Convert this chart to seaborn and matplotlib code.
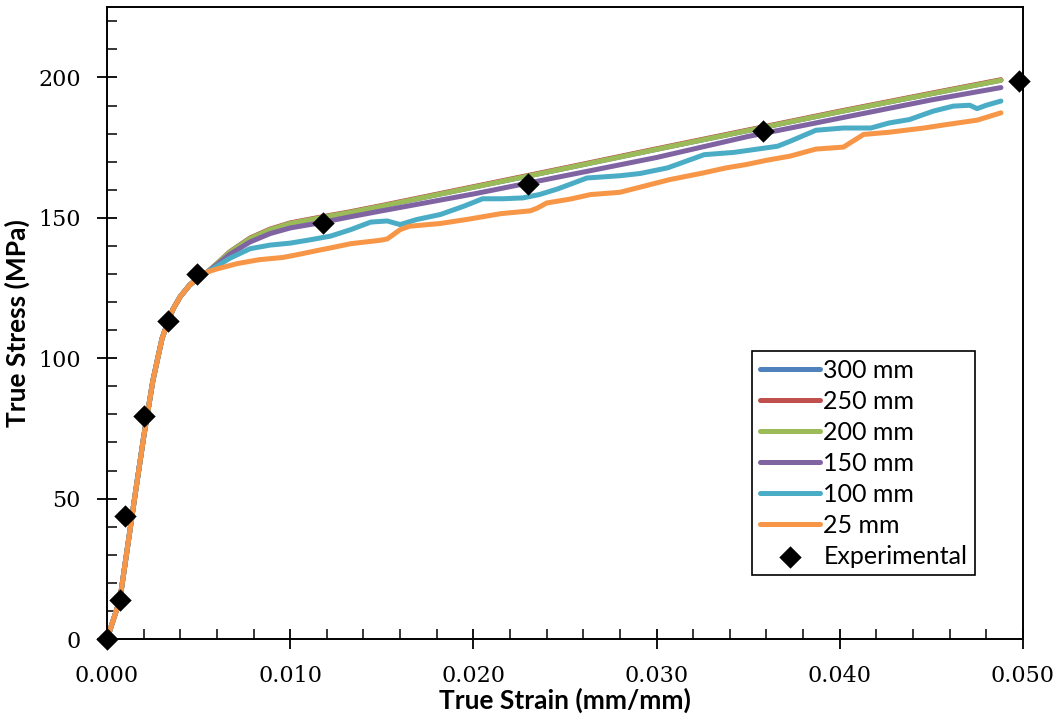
import matplotlib
matplotlib.use("Agg")
import matplotlib.pyplot as plt
import seaborn as sns
import pandas as pd
from matplotlib.ticker import MultipleLocator, FormatStrFormatter

# ---- data -------------------------------------------------------------
# shared elastic part and knee of all simulated curves
elastic_strain = [0.0, 0.0007, 0.0011, 0.0015, 0.0020, 0.0025, 0.0030, 0.0033,
                  0.0036, 0.0040, 0.0045, 0.0050, 0.0055]
elastic_stress = [0.0, 14.0, 32.0, 50.0, 72.0, 92.0, 107.0, 112.5,
                  117.5, 122.0, 126.0, 128.8, 130.8]

strain_200 = [0.0060, 0.0067, 0.0078, 0.0089, 0.0100, 0.0116, 0.0133, 0.0150,
              0.0200, 0.0250, 0.0300, 0.0350, 0.0400, 0.0450, 0.0488]
stress_300 = [133.6, 137.8, 142.6, 145.8, 148.0, 150.0, 152.0, 154.2,
              160.9, 167.6, 174.4, 181.1, 187.8, 194.2, 199.0]
stress_250 = [133.7, 137.9, 142.8, 146.0, 148.2, 150.2, 152.2, 154.4,
              161.1, 167.8, 174.6, 181.3, 188.0, 194.4, 199.2]
stress_200 = [133.6, 137.8, 142.6, 145.8, 148.0, 150.0, 152.0, 154.2,
              160.9, 167.6, 174.4, 181.1, 187.8, 194.2, 199.0]

strain_150 = [0.0060, 0.0067, 0.0078, 0.0089, 0.0100, 0.0116, 0.0133, 0.0150,
              0.0200, 0.0250, 0.0300, 0.0350, 0.0400, 0.0450, 0.0488]
stress_150 = [133.3, 137.0, 141.4, 144.4, 146.4, 148.2, 150.4, 152.5,
              158.5, 165.0, 171.5, 179.0, 185.5, 192.0, 196.4]

strain_100 = [0.0060, 0.0067, 0.0078, 0.0089, 0.0100, 0.0111, 0.0122, 0.0133,
              0.0144, 0.0153, 0.0160, 0.0169, 0.0182, 0.0195, 0.0205, 0.0216,
              0.0227, 0.0236, 0.0246, 0.0262, 0.0280, 0.0291, 0.0306, 0.0326,
              0.0342, 0.0353, 0.0366, 0.0373, 0.0387, 0.0402, 0.0417, 0.0427,
              0.0438, 0.0451, 0.0462, 0.0471, 0.0475, 0.0480, 0.0488]
stress_100 = [132.8, 135.6, 139.0, 140.3, 141.0, 142.2, 143.5, 145.8,
              148.5, 148.9, 147.6, 149.4, 151.2, 154.2, 156.8, 156.8,
              157.1, 158.3, 160.3, 164.2, 165.0, 165.8, 167.8, 172.5,
              173.3, 174.3, 175.5, 177.3, 181.2, 182.0, 182.0, 183.8,
              185.0, 188.0, 189.8, 190.1, 188.9, 190.1, 191.6]

strain_25 = [0.0060, 0.0071, 0.0083, 0.0096, 0.0104, 0.0115, 0.0122, 0.0133,
             0.0149, 0.0153, 0.0160, 0.0165, 0.0182, 0.0198, 0.0215, 0.0231,
             0.0235, 0.0240, 0.0253, 0.0264, 0.0280, 0.0289, 0.0307, 0.0324,
             0.0338, 0.0349, 0.0360, 0.0373, 0.0387, 0.0402, 0.0413, 0.0427,
             0.0446, 0.0458, 0.0475, 0.0488]
stress_25 = [131.8, 133.7, 135.1, 135.9, 136.9, 138.4, 139.3, 140.8,
             142.0, 142.5, 145.8, 147.0, 148.0, 149.6, 151.5, 152.5,
             153.5, 155.3, 156.7, 158.3, 159.1, 160.6, 163.6, 165.8,
             167.8, 169.0, 170.5, 172.0, 174.5, 175.2, 179.7, 180.5,
             182.0, 183.2, 184.8, 187.4]

exp_strain = [0.0, 0.0007, 0.00098, 0.00202, 0.00333, 0.00491, 0.0118,
              0.0230, 0.0358, 0.0498]
exp_stress = [0.0, 13.9, 43.8, 79.5, 113.4, 130.1, 148.3, 162.2, 181.1, 198.9]

series_labels = ["300 mm", "250 mm", "200 mm", "150 mm", "100 mm", "25 mm"]
series_colors = ["#4F81BD", "#C0504D", "#9BBB59", "#8064A2", "#4BACC6", "#F79646"]

# ---- long table -------------------------------------------------------
plastic = {
    "300 mm": (strain_200, stress_300),
    "250 mm": (strain_200, stress_250),
    "200 mm": (strain_200, stress_200),
    "150 mm": (strain_150, stress_150),
    "100 mm": (strain_100, stress_100),
    "25 mm": (strain_25, stress_25),
}
rows = []
for name in series_labels:
    xs = elastic_strain + plastic[name][0]
    ys = elastic_stress + plastic[name][1]
    for i, (x, y) in enumerate(zip(xs, ys)):
        rows.append({"length": name, "order": i, "strain": x, "stress": y})
curves = pd.DataFrame(rows)
experiment = pd.DataFrame({"strain": exp_strain, "stress": exp_stress})

# ---- figure -----------------------------------------------------------
sns.set_theme(style="white")
plt.rcParams["font.family"] = ["DejaVu Serif"]
plt.rcParams["text.color"] = "black"
plt.rcParams["axes.labelcolor"] = "black"
plt.rcParams["xtick.color"] = "black"
plt.rcParams["ytick.color"] = "black"

fig = plt.figure(figsize=(10.6, 7.27), dpi=100)
ax = fig.add_axes([0.101, 0.121, 0.864, 0.869])

sns.lineplot(data=curves, x="strain", y="stress", hue="length",
             hue_order=series_labels, palette=series_colors, sort=False,
             estimator=None, units="length", linewidth=3.6, ax=ax)
sns.scatterplot(data=experiment, x="strain", y="stress", marker="D", s=130,
                color="black", edgecolor="black", linewidth=0,
                label="Experimental", zorder=5, clip_on=False, ax=ax)

ax.set_xlim(0, 0.050)
ax.set_ylim(0, 225)
ax.xaxis.set_major_locator(MultipleLocator(0.010))
ax.xaxis.set_minor_locator(MultipleLocator(0.002))
ax.yaxis.set_major_locator(MultipleLocator(50))
ax.yaxis.set_minor_locator(MultipleLocator(10))
ax.xaxis.set_major_formatter(FormatStrFormatter("%.3f"))

ax.tick_params(axis="both", which="major", direction="inout", length=14,
               width=1.3, color="black", labelcolor="black", labelsize=16,
               pad=12)
ax.tick_params(axis="both", which="minor", direction="in", length=7,
               width=1.1, color="black")
ax.tick_params(bottom=True, left=True, top=False, right=False, which="both")
for sp in ax.spines.values():
    sp.set_color("black")
    sp.set_linewidth(1.4)

ax.set_xlabel("True Strain (mm/mm)", family="Lato", fontweight="bold",
              fontsize=19, labelpad=0, color="black")
ax.set_ylabel("True Stress (MPa)", family="Lato", fontweight="bold",
              fontsize=19, labelpad=6, color="black")

handles, labels = ax.get_legend_handles_labels()
leg = ax.legend(handles, labels, loc="lower right",
                bbox_to_anchor=(0.9476, 0.101), frameon=True, fancybox=False,
                framealpha=1, edgecolor="black", borderpad=0.3,
                labelspacing=0.32, handlelength=2.4, handletextpad=0.15,
                borderaxespad=0, prop={"family": "Lato", "size": 18})
leg.get_frame().set_linewidth(1.2)
for t in leg.get_texts():
    t.set_color("black")

fig.savefig("out.png", dpi=100)
